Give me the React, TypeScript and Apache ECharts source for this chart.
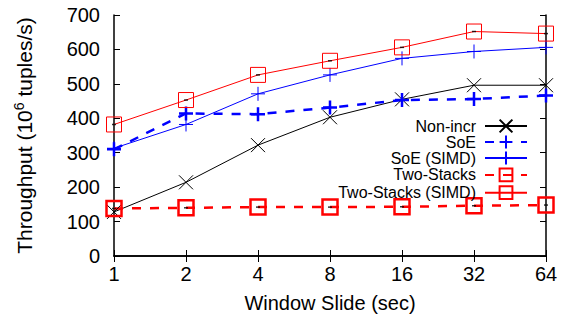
import React, { useEffect, useRef } from "react";
import * as echarts from "echarts";

const categories = ["1", "2", "4", "8", "16", "32", "64"];
const nonIncr = [128, 214, 322, 403, 455, 496, 496];
const soe = [310, 414, 412, 431, 453, 456, 466];
const soeSimd = [313, 382, 471, 526, 574, 594, 606];
const twoStacks = [138, 140, 142, 142, 143, 146, 148];
const twoStacksSimd = [382, 453, 526, 567, 606, 652, 646];

const FONT = "Liberation Sans";
const CROSS = "path://M0 0L10 10M10 0L0 10";
const PLUS = "path://M5 0L5 10M0 5L10 5";

export default function App() {
  const ref = useRef<HTMLDivElement>(null);
  useEffect(() => {
    if (!ref.current) return;
    const chart = echarts.init(ref.current, null, { renderer: "svg" });
    const axisLine = { show: true, lineStyle: { color: "#000", width: 1.5 } };
    const tick = { show: true, inside: true, length: 6, lineStyle: { color: "#000", width: 1 } };
    const errMark = (data: number[]) => ({
      type: "scatter",
      data,
      symbol: "rect",
      symbolSize: [4, 1.5],
      silent: true,
      z: 5,
      itemStyle: { color: "#000" },
    });
    chart.setOption({
      animation: false,
      textStyle: { fontFamily: FONT },
      grid: { left: 114, right: 17, top: 15, bottom: 64 },
      legend: {
        orient: "vertical",
        align: "right",
        right: 35,
        top: 118,
        padding: 0,
        itemWidth: 42,
        itemHeight: 16,
        itemGap: 0,
        textStyle: { fontFamily: FONT, fontSize: 16, lineHeight: 16, color: "#000", padding: [0, 4, 0, 0] },
        data: ["Non-incr", "SoE", "SoE (SIMD)", "Two-Stacks", "Two-Stacks (SIMD)"],
      },
      xAxis: [
        {
          type: "category",
          data: categories,
          boundaryGap: false,
          position: "bottom",
          axisLine,
          axisTick: tick,
          axisLabel: { fontFamily: FONT, fontSize: 20, color: "#000", margin: 8 },
          splitLine: { show: false },
          name: "Window Slide (sec)",
          nameLocation: "middle",
          nameGap: 37,
          nameTextStyle: { fontFamily: FONT, fontSize: 20, color: "#000" },
        },
        {
          type: "category",
          data: categories,
          boundaryGap: false,
          position: "top",
          axisLine,
          axisTick: tick,
          axisLabel: { show: false },
          splitLine: { show: false },
        },
      ],
      yAxis: [
        {
          type: "value",
          min: 0,
          max: 700,
          interval: 100,
          position: "left",
          axisLine,
          axisTick: tick,
          axisLabel: { fontFamily: FONT, fontSize: 20, color: "#000", margin: 14 },
          splitLine: { show: false },
          name: "Throughput (10{sup|6} tuples/s)",
          nameLocation: "middle",
          nameGap: 77,
          nameTextStyle: {
            fontFamily: FONT,
            fontSize: 21,
            color: "#000",
            lineHeight: 25,
            rich: { sup: { fontFamily: FONT, fontSize: 14, color: "#000", verticalAlign: "top", lineHeight: 14 } },
          },
        },
        {
          type: "value",
          min: 0,
          max: 700,
          interval: 100,
          position: "right",
          axisLine,
          axisTick: tick,
          axisLabel: { show: false },
          splitLine: { show: false },
        },
      ],
      series: [
        {
          name: "Non-incr",
          type: "line",
          data: nonIncr,
          symbol: CROSS,
          symbolSize: 14,
          showAllSymbol: true,
          lineStyle: { color: "#000", width: 1 },
          itemStyle: { color: "#000", borderColor: "#000", borderWidth: 1 },
        },
        {
          name: "SoE",
          type: "line",
          data: soe,
          symbol: PLUS,
          symbolSize: 14,
          showAllSymbol: true,
          lineStyle: { color: "#0000ff", width: 2.5, type: [9, 9] },
          itemStyle: { color: "#0000ff", borderColor: "#0000ff", borderWidth: 2.5 },
        },
        {
          name: "SoE (SIMD)",
          type: "line",
          data: soeSimd,
          symbol: PLUS,
          symbolSize: 14,
          showAllSymbol: true,
          lineStyle: { color: "#0000ff", width: 1 },
          itemStyle: { color: "#0000ff", borderColor: "#0000ff", borderWidth: 1 },
        },
        {
          name: "Two-Stacks",
          type: "line",
          data: twoStacks,
          symbol: "rect",
          symbolSize: 15,
          showAllSymbol: true,
          lineStyle: { color: "#ff0000", width: 2.5, type: [9, 9] },
          itemStyle: { color: "none", borderColor: "#ff0000", borderWidth: 2.5 },
        },
        {
          name: "Two-Stacks (SIMD)",
          type: "line",
          data: twoStacksSimd,
          symbol: "rect",
          symbolSize: 15,
          showAllSymbol: true,
          lineStyle: { color: "#ff0000", width: 1 },
          itemStyle: { color: "none", borderColor: "#ff0000", borderWidth: 1 },
        },
        errMark(twoStacks),
        errMark(twoStacksSimd),
      ],
    });
    return () => chart.dispose();
  }, []);
  return <div ref={ref} style={{ width: 563, height: 320, position: "absolute", left: 0, top: 0 }} />;
}
